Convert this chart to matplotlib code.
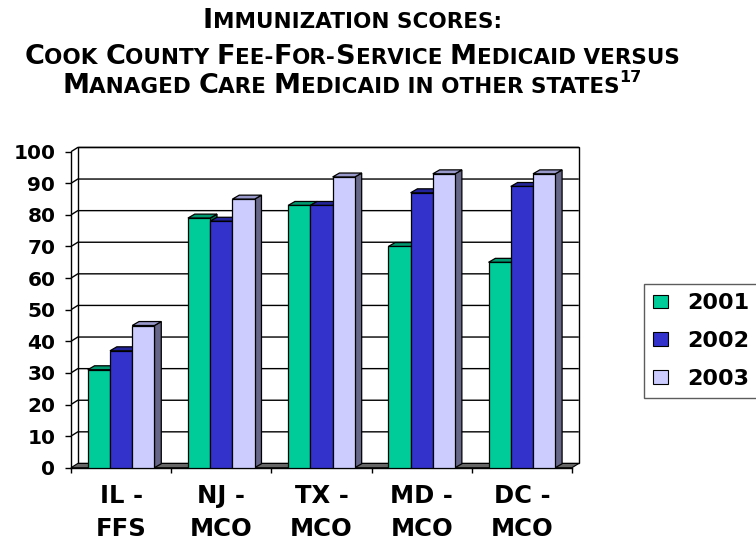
import numpy as np
import matplotlib
matplotlib.use('Agg')
import matplotlib.pyplot as plt
from matplotlib.patches import Polygon, Patch
from matplotlib.transforms import IdentityTransform

# data
categories = ["IL -\nFFS", "NJ -\nMCO", "TX -\nMCO", "MD -\nMCO", "DC -\nMCO"]
years = ["2001", "2002", "2003"]
s2001 = [31, 79, 83, 70, 65]
s2002 = [37, 78, 83, 87, 89]
s2003 = [45, 85, 92, 93, 93]
yticks = list(range(0, 101, 10))

front_cols = ['#00CC99', '#3333CC', '#CCCCFF']
top_cols = ['#009970', '#24249A', '#9999CC']
side_cols = ['#007050', '#1A1A80', '#666688']

W, H = 756, 540
fig = plt.figure(figsize=(W / 100, H / 100), dpi=100)
ax = fig.add_axes([71 / W, 1 - 467.7 / H, 501 / W, (467.7 - 151.7) / H])
ax.set_xlim(-0.5, len(categories) - 0.5)
ax.set_ylim(0, 100)

# 3d offsets (data units)
bdx, bdy = 0.068, 1.25
wdx, wdy = 0.068, 1.35
x0, x1 = ax.get_xlim()

# back wall + gridlines
ax.add_patch(Polygon([(x0 + wdx, wdy), (x1 + wdx, wdy), (x1 + wdx, 100 + wdy), (x0 + wdx, 100 + wdy)],
                     closed=True, facecolor='white', edgecolor='black', lw=1.0, clip_on=False, zorder=1))
for v in yticks[1:]:
    ax.plot([x0, x0 + wdx, x1 + wdx], [v, v + wdy, v + wdy], color='black', lw=1.0,
            clip_on=False, zorder=1.5, solid_capstyle='butt')
# floor
ax.add_patch(Polygon([(x0, 0), (x1, 0), (x1 + wdx, wdy), (x0 + wdx, wdy)], closed=True,
                     facecolor='#666666', edgecolor='black', lw=0.8, clip_on=False, zorder=2))

# bars with 3d faces
series = [s2001, s2002, s2003]
bw = 0.222
for i in range(len(categories)):
    for j, vals in enumerate(series):
        h = vals[i]
        xl = i + (j - 1.5) * bw
        xr = xl + bw
        z = 3 + i * 0.1 + j * 0.01
        ax.add_patch(Polygon([(xr, 0), (xr + bdx, bdy), (xr + bdx, h + bdy), (xr, h)], closed=True,
                             facecolor=side_cols[j], edgecolor='black', lw=0.9, clip_on=False, zorder=z))
        ax.add_patch(Polygon([(xl, h), (xr, h), (xr + bdx, h + bdy), (xl + bdx, h + bdy)], closed=True,
                             facecolor=top_cols[j], edgecolor='black', lw=0.9, clip_on=False, zorder=z + 0.001))
        ax.bar(xl, h, width=bw, align='edge', color=front_cols[j], edgecolor='black', lw=0.9,
               zorder=z + 0.002)

ax.spines['top'].set_visible(False)
ax.spines['right'].set_visible(False)
ax.spines['left'].set_linewidth(1.0)
ax.spines['bottom'].set_linewidth(1.0)
ax.spines['left'].set_zorder(2.5)
ax.spines['bottom'].set_zorder(2.5)

ax.set_yticks(yticks)
ax.set_yticklabels([str(v) for v in yticks], fontsize=14.5, fontweight='bold', family='DejaVu Sans')
ax.tick_params(axis='y', direction='out', length=4.3, width=1.0, pad=7)

ax.set_xticks(np.arange(len(categories) + 1) - 0.5)
ax.set_xticklabels([])
ax.tick_params(axis='x', which='major', direction='out', length=3.6, width=1.0)
ax.set_xticks(np.arange(len(categories)), minor=True)
ax.set_xticklabels(categories, minor=True, fontsize=17.5, fontweight='bold', family='DejaVu Sans',
                   linespacing=1.5)
ax.tick_params(axis='x', which='minor', length=0, pad=11.5)

handles = [Patch(facecolor=c, edgecolor='black', lw=0.8) for c in front_cols]
leg = ax.legend(handles, years, loc='upper left', bbox_to_anchor=(644 / W, 1 - 284 / H),
                bbox_transform=fig.transFigure, borderaxespad=0, frameon=True, fancybox=False,
                prop={'family': 'DejaVu Sans', 'weight': 'bold', 'size': 16},
                handlelength=0.68, handleheight=0.57, handletextpad=0.85, borderpad=0.42,
                labelspacing=0.8)
leg.get_frame().set_edgecolor('#333333')
leg.get_frame().set_linewidth(1.0)

# title in small caps, built piece by piece
B, S = 19.5, 15.5
title_lines = [
    (28.3, [("I", B, 0), ("MMUNIZATION SCORES:", S, 0)]),
    (64.0, [("C", B, 0), ("OOK ", S, 0), ("C", B, 0), ("OUNTY ", S, 0), ("F", B, 0), ("EE-", S, 0),
            ("F", B, 0), ("OR-", S, 0), ("S", B, 0), ("ERVICE ", S, 0), ("M", B, 0),
            ("EDICAID VERSUS", S, 0)]),
    (93.0, [("M", B, 0), ("ANAGED ", S, 0), ("C", B, 0), ("ARE ", S, 0), ("M", B, 0),
            ("EDICAID IN OTHER STATES", S, 0), ("17", 11.5, 11)]),
]
r = fig.canvas.get_renderer()
xc = 352
for base, pieces in title_lines:
    objs = []
    x = 0
    for s, size, rise in pieces:
        t = fig.text(x, H - base + rise, s, fontsize=size, fontweight='bold', family='DejaVu Sans',
                     va='baseline', ha='left', transform=IdentityTransform())
        wd = t.get_window_extent(r).width
        objs.append((t, x))
        x += wd
    shift = xc - x / 2
    for t, xx in objs:
        t.set_x(xx + shift)

fig.savefig('out.png', dpi=100)
